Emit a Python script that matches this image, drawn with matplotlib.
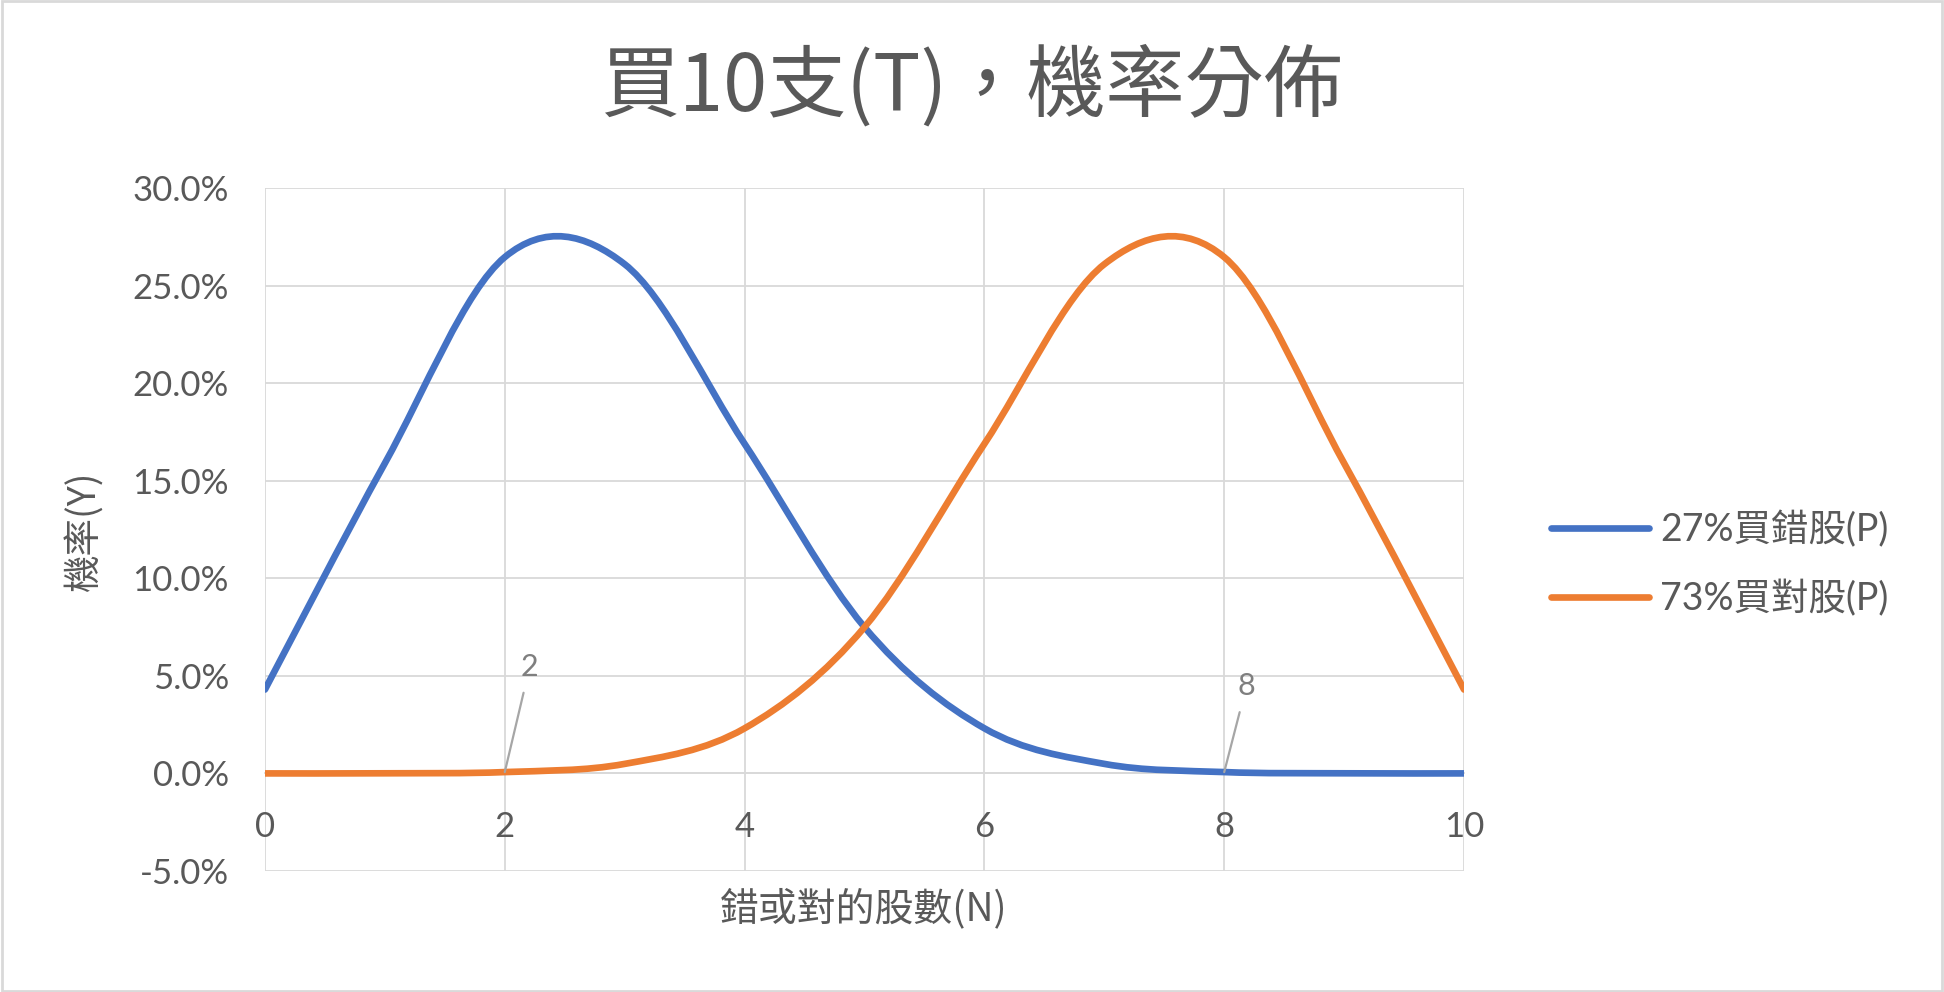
"""Binomial distribution of wrong / right picks when buying 10 stocks."""

import matplotlib

matplotlib.use("Agg")

import matplotlib.pyplot as plt
from matplotlib.lines import Line2D
from matplotlib.patches import PathPatch, Rectangle
from matplotlib.path import Path
from matplotlib.ticker import FuncFormatter, MultipleLocator

# number of stocks (N)
counts = [0, 1, 2, 3, 4, 5, 6, 7, 8, 9, 10]
# probability in percent, 27% wrong picks
wrong_pct = [4.298, 15.895, 26.456, 26.093, 16.889, 7.496, 2.310, 0.488, 0.068, 0.0056, 0.0002]
# probability in percent, 73% right picks
right_pct = [0.0002, 0.0056, 0.068, 0.488, 2.310, 7.496, 16.889, 26.093, 26.456, 15.895, 4.298]

series_names = ["27%買錯股(P)", "73%買對股(P)"]
callout_x = [2, 8]

BLUE = "#4472C4"
ORANGE = "#ED7D31"
GRID = "#D9D9D9"
TEXT = "#595959"

LATIN = ["Lato", "Noto Sans CJK TC", "DejaVu Sans"]
CJK = ["Noto Sans CJK TC", "DejaVu Sans"]


def smooth_path(xs, ys):
    """Excel-like smoothed line: cubic Bezier through every point."""
    pts = list(zip(xs, ys))
    n = len(pts)
    verts = [pts[0]]
    codes = [Path.MOVETO]
    for i in range(n - 1):
        p0 = pts[i - 1] if i > 0 else pts[i]
        p1 = pts[i]
        p2 = pts[i + 1]
        p3 = pts[i + 2] if i + 2 < n else pts[i + 1]
        c1 = (p1[0] + (p2[0] - p0[0]) / 6, p1[1] + (p2[1] - p0[1]) / 6)
        c2 = (p2[0] - (p3[0] - p1[0]) / 6, p2[1] - (p3[1] - p1[1]) / 6)
        verts += [c1, c2, p2]
        codes += [Path.CURVE4] * 3
    return Path(verts, codes)


def main() -> None:
    plt.rcParams["axes.unicode_minus"] = False
    fig = plt.figure(figsize=(19.44, 9.92), dpi=100)
    ax = fig.add_axes([0.1363, 0.1220, 0.6168, 0.6885])

    for values, color in [(wrong_pct, BLUE), (right_pct, ORANGE)]:
        patch = PathPatch(
            smooth_path(counts, values),
            facecolor="none",
            edgecolor=color,
            lw=4.8,
            capstyle="round",
            joinstyle="round",
            zorder=3,
        )
        ax.add_patch(patch)

    ax.set_xlim(0, 10)
    ax.set_ylim(-5, 30)
    ax.xaxis.set_major_locator(MultipleLocator(2))
    ax.yaxis.set_major_locator(MultipleLocator(5))
    ax.yaxis.set_major_formatter(FuncFormatter(lambda v, _: f"{v:.1f}%"))
    ax.grid(True, color=GRID, lw=1.3, zorder=0)
    ax.set_axisbelow(True)
    for name, side in ax.spines.items():
        side.set_visible(name == "bottom")
    # horizontal axis crosses at 0, labels sit next to it
    ax.spines["bottom"].set_position(("data", 0))
    ax.spines["bottom"].set_color(GRID)
    ax.spines["bottom"].set_linewidth(1.3)
    ax.tick_params(axis="both", length=0, colors=TEXT, labelsize=25)
    ax.tick_params(axis="x", pad=27)
    ax.tick_params(axis="y", pad=26)
    for lbl in ax.get_xticklabels() + ax.get_yticklabels():
        lbl.set_family(LATIN)

    # callout labels on the crossing points
    for k, dx, dy in [(callout_x[0], 18, 76), (callout_x[1], 16, 62)]:
        yv = right_pct[k] if k < 5 else wrong_pct[k]
        ax.annotate(
            str(k),
            xy=(k, yv),
            xytext=(dx, dy),
            textcoords="offset points",
            ha="center",
            va="center",
            fontsize=22,
            color="#7F7F7F",
            family=LATIN,
            arrowprops=dict(arrowstyle="-", color="#A6A6A6", lw=1.6, shrinkA=7, shrinkB=0),
            zorder=4,
        )

    handles = [
        Line2D([], [], color=BLUE, lw=4.8, solid_capstyle="round"),
        Line2D([], [], color=ORANGE, lw=4.8, solid_capstyle="round"),
    ]
    leg = fig.legend(
        handles,
        series_names,
        loc="center left",
        bbox_to_anchor=(0.798, 0.431),
        frameon=False,
        handlelength=2.6,
        handletextpad=0.3,
        labelspacing=0.85,
        borderpad=0,
        borderaxespad=0,
        prop={"family": LATIN, "size": 27},
    )
    for t in leg.get_texts():
        t.set_color(TEXT)

    fig.text(0.4995, 0.912, "買10支(T)，機率分佈", ha="center", va="center",
             fontsize=57, color=TEXT, family=CJK)
    fig.text(0.0437, 0.4647, "機率(Y)", rotation=90, ha="center", va="center",
             fontsize=27, color=TEXT, family=CJK)
    fig.text(0.4444, 0.0837, "錯或對的股數(N)", ha="center", va="center",
             fontsize=28, color=TEXT, family=CJK)

    fig.patches.append(Rectangle((0.0008, 0.0015), 0.9984, 0.997, transform=fig.transFigure,
                                 fill=False, edgecolor=GRID, lw=2))

    fig.savefig("out.png", dpi=100)
    plt.close(fig)


if __name__ == "__main__":
    main()
